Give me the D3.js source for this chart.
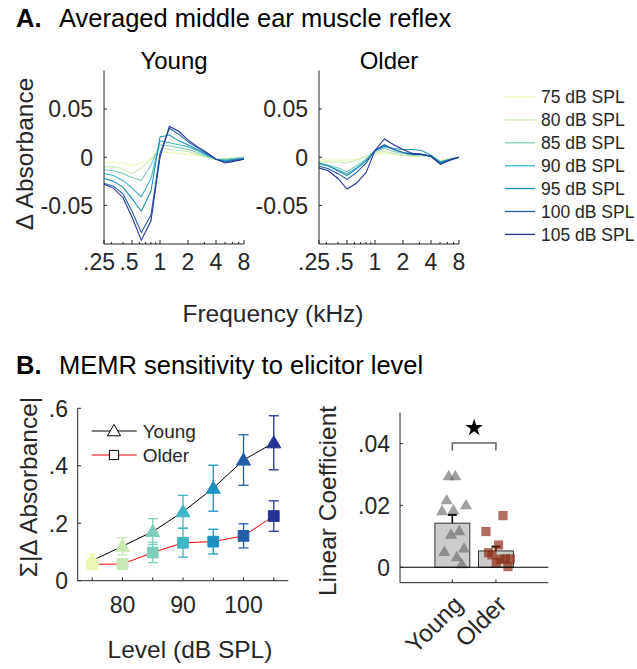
<!DOCTYPE html>
<html>
<head>
<meta charset="utf-8">
<script src="https://cdn.jsdelivr.net/npm/d3@7"></script>
<style>
  html, body { margin: 0; padding: 0; background: #fff; }
  svg { display: block; font-family: "Liberation Sans", Arial, Helvetica, sans-serif; }
</style>
</head>
<body>
<svg id="chart" width="637" height="669"></svg>
<script>
// ---------------- DATA ----------------
const freqs = [0.25, 0.315, 0.4, 0.5, 0.63, 0.8, 1, 1.26, 1.59, 2, 2.52, 3.17, 4, 5.04, 6.35, 8];
const levels = [75, 80, 85, 90, 95, 100, 105];
const levelLabels = ["75 dB SPL", "80 dB SPL", "85 dB SPL", "90 dB SPL", "95 dB SPL", "100 dB SPL", "105 dB SPL"];
const freqTicks = [0.25, 0.5, 1, 2, 4, 8];
const freqTickLabels = [".25", ".5", "1", "2", "4", "8"];
const freqMinorTicks = [0.3, 0.4, 0.6, 0.7, 0.8, 0.9, 3, 5, 6, 7];
const absTicks = [-0.05, 0, 0.05];
const absTickLabels = ["-0.05", "0", "0.05"];

const young75  = [-0.005, -0.005, -0.006, -0.009, -0.006, -0.002, 0.005, 0.005, 0.004, 0.003, 0.002, 0.000, -0.002, -0.001, 0.000, 0.000];
const young80  = [-0.010, -0.010, -0.012, -0.017, -0.011, -0.002, 0.009, 0.008, 0.007, 0.006, 0.003, 0.000, -0.002, -0.002, -0.001, 0.000];
const young85  = [-0.013, -0.014, -0.017, -0.021, -0.024, -0.008, 0.013, 0.012, 0.010, 0.008, 0.005, 0.001, -0.002, -0.002, -0.001, 0.000];
const young90  = [-0.017, -0.019, -0.024, -0.032, -0.041, -0.022, 0.017, 0.015, 0.013, 0.011, 0.007, 0.002, -0.002, -0.003, -0.002, -0.001];
const young95  = [-0.022, -0.025, -0.031, -0.043, -0.056, -0.035, 0.021, 0.023, 0.017, 0.013, 0.008, 0.003, -0.002, -0.004, -0.002, -0.001];
const young100 = [-0.027, -0.030, -0.038, -0.056, -0.078, -0.060, 0.004, 0.030, 0.024, 0.016, 0.010, 0.004, -0.002, -0.005, -0.003, -0.002];
const young105 = [-0.028, -0.032, -0.042, -0.062, -0.086, -0.066, 0.000, 0.032, 0.027, 0.018, 0.011, 0.005, -0.002, -0.006, -0.004, -0.002];

const older75  = [-0.003, -0.003, -0.003, -0.003, -0.002, 0.000, 0.003, 0.004, 0.003, 0.002, 0.001, 0.001, 0.001, -0.003, -0.001, 0.000];
const older80  = [-0.005, -0.005, -0.005, -0.006, -0.003, 0.001, 0.005, 0.006, 0.004, 0.002, 0.001, 0.001, 0.001, -0.004, -0.002, 0.000];
const older85  = [-0.006, -0.008, -0.011, -0.015, -0.009, -0.002, 0.006, 0.009, 0.006, 0.004, 0.002, 0.002, 0.001, -0.005, -0.002, 0.000];
const older90  = [-0.007, -0.009, -0.013, -0.017, -0.011, -0.003, 0.007, 0.012, 0.008, 0.005, 0.004, 0.003, 0.001, -0.006, -0.003, 0.000];
const older95  = [-0.006, -0.009, -0.014, -0.019, -0.012, -0.004, 0.007, 0.011, 0.009, 0.008, 0.008, 0.007, 0.002, -0.005, -0.002, 0.000];
const older100 = [-0.009, -0.012, -0.017, -0.023, -0.016, -0.006, 0.007, 0.013, 0.008, 0.005, 0.003, 0.003, 0.001, -0.007, -0.003, 0.000];
const older105 = [-0.011, -0.014, -0.022, -0.033, -0.027, -0.016, 0.007, 0.019, 0.013, 0.008, 0.004, 0.003, 0.001, -0.007, -0.003, 0.000];

const youngCurves = [young75, young80, young85, young90, young95, young100, young105];
const olderCurves = [older75, older80, older85, older90, older95, older100, older105];

// Panel B left: summed |delta absorbance|
const youngSum    = [0.070, 0.120, 0.171, 0.240, 0.322, 0.420, 0.480];
const youngSumErr = [0.022, 0.030, 0.045, 0.057, 0.080, 0.088, 0.094];
const olderSum    = [0.057, 0.058, 0.098, 0.132, 0.136, 0.156, 0.225];
const olderSumErr = [0.015, 0.012, 0.035, 0.050, 0.043, 0.042, 0.053];
const levelTicks = [75, 80, 85, 90, 95, 100, 105];
const levelTickLabels = ["", "80", "", "90", "", "100", ""];
const sumTicks = [0, 0.2, 0.4, 0.6];
const sumTickLabels = ["0", ".2", ".4", ".6"];

// Panel B right: linear coefficient
const groups = ["Young", "Older"];
const coefMean = [0.01426, 0.00528];
const coefSem  = [0.0027, 0.0014];
const youngCoef   = [0.0296, 0.0296, 0.0218, 0.0183, 0.0186, 0.0202, 0.0107, 0.0118, 0.0051, 0.0062, 0.0034, 0.0011];
const youngJitter = [-0.083, 0.069, -0.129, -0.236, 0.023, 0.314, -0.03, 0.161, -0.183, 0.268, 0.101, 0.216];
const olderCoef   = [0.01155, 0.0167, 0.0072, 0.0047, 0.0040, 0.0015, 0.0026, 0.0027, 0.0027, 0.0002];
const olderJitter = [-0.229, 0.161, 0.06, -0.17, -0.092, 0.007, 0.099, 0.213, 0.328, 0.275];
const coefTicks = [0, 0.02, 0.04];
const coefTickLabels = ["0", ".02", ".04"];

// ---------------- STYLE ----------------
const palette = ["#edf8b1", "#c7e9b4", "#7fcdbb", "#41b6c4", "#1d91c0", "#225ea8", "#253494"];
const axisColor = "#262626";
const FONT_TICK = 23;
const FONT_LABEL = 24.5;

const svg = d3.select("#chart");

function drawAxisLines(g, x0, x1, y0, y1) {
  g.append("line").attr("x1", x0).attr("x2", x0).attr("y1", y0).attr("y2", y1)
    .attr("stroke", axisColor).attr("stroke-width", 1);
  g.append("line").attr("x1", x0).attr("x2", x1).attr("y1", y1).attr("y2", y1)
    .attr("stroke", axisColor).attr("stroke-width", 1);
}

// ---------------- TITLES ----------------
function panelTitle(letter, text, y) {
  const t = svg.append("text").attr("x", 16).attr("y", y).attr("fill", "#000")
    .style("font-size", "25.5px");
  t.append("tspan").attr("font-weight", "bold").text(letter);
  t.append("tspan").attr("x", 59).text(text);
}
panelTitle("A.", "Averaged middle ear muscle reflex", 27);
panelTitle("B.", "MEMR sensitivity to elicitor level", 374);

// ---------------- PANEL A ----------------
const yA = d3.scaleLinear().domain([-0.09, 0.09]).range([244, 70.5]);

function panelA(left, right, title, curves) {
  const x = d3.scaleLog().domain([0.25, 8]).range([left, right]);
  const g = svg.append("g");
  const line = d3.line().x((d, i) => x(freqs[i])).y(d => yA(d));
  curves.forEach((c, k) => {
    g.append("path").attr("d", line(c)).attr("fill", "none")
      .attr("stroke", palette[k]).attr("stroke-width", 1.1);
  });
  drawAxisLines(g, left, right, 70.5, 244);
  absTicks.forEach((t, i) => {
    g.append("line").attr("x1", left).attr("x2", left + 3).attr("y1", yA(t)).attr("y2", yA(t))
      .attr("stroke", axisColor);
    g.append("text").attr("x", left - 11).attr("y", yA(t)).attr("dy", "0.36em")
      .attr("text-anchor", "end").attr("fill", axisColor).style("font-size", FONT_TICK + "px")
      .text(absTickLabels[i]);
  });
  freqTicks.forEach((t, i) => {
    g.append("line").attr("x1", x(t)).attr("x2", x(t)).attr("y1", 244).attr("y2", 240)
      .attr("stroke", axisColor);
    const dx = i === 0 ? -5 : (i === 1 ? -3 : 0);
    g.append("text").attr("x", x(t) + dx).attr("y", 270)
      .attr("text-anchor", "middle").attr("fill", axisColor).style("font-size", FONT_TICK + "px")
      .text(freqTickLabels[i]);
  });
  freqMinorTicks.forEach(t => {
    g.append("line").attr("x1", x(t)).attr("x2", x(t)).attr("y1", 244).attr("y2", 242)
      .attr("stroke", axisColor);
  });
  g.append("text").attr("x", (left + right) / 2).attr("y", 69).attr("text-anchor", "middle")
    .attr("fill", "#000").style("font-size", "24px").text(title);
}
panelA(104, 244, "Young", youngCurves);
panelA(319, 459, "Older", olderCurves);

svg.append("text").attr("x", 273).attr("y", 322).attr("text-anchor", "middle")
  .attr("fill", axisColor).style("font-size", FONT_LABEL + "px").text("Frequency (kHz)");
svg.append("text").attr("transform", "translate(33,154) rotate(-90)").attr("text-anchor", "middle")
  .attr("fill", axisColor).style("font-size", FONT_LABEL + "px").text("\u0394 Absorbance");

// legend A
const legA = svg.append("g");
levelLabels.forEach((lab, i) => {
  const yy = 97 + i * 22.9;
  legA.append("line").attr("x1", 505).attr("x2", 535).attr("y1", yy).attr("y2", yy)
    .attr("stroke", palette[i]).attr("stroke-width", 1.3);
  legA.append("text").attr("x", 541).attr("y", yy).attr("dy", "0.36em")
    .attr("fill", axisColor).style("font-size", "17.5px").text(lab);
});

// ---------------- PANEL B LEFT ----------------
(function () {
  const x = d3.scaleLinear().domain([72.6, 107.4]).range([77.7, 288.3]);
  const y = d3.scaleLinear().domain([0, 0.6]).range([580.7, 408.3]);
  const g = svg.append("g");
  drawAxisLines(g, 77.7, 288.3, 408.3, 580.7);
  sumTicks.forEach((t, i) => {
    g.append("line").attr("x1", 77.7).attr("x2", 81).attr("y1", y(t)).attr("y2", y(t)).attr("stroke", axisColor);
    g.append("text").attr("x", 68).attr("y", y(t)).attr("dy", "0.36em").attr("text-anchor", "end")
      .attr("fill", axisColor).style("font-size", FONT_TICK + "px").text(sumTickLabels[i]);
  });
  levelTicks.forEach((t, i) => {
    g.append("line").attr("x1", x(t)).attr("x2", x(t)).attr("y1", 580.7).attr("y2", 577.5).attr("stroke", axisColor);
    if (levelTickLabels[i]) {
      g.append("text").attr("x", x(t)).attr("y", 613).attr("text-anchor", "middle")
        .attr("fill", axisColor).style("font-size", FONT_TICK + "px").text(levelTickLabels[i]);
    }
  });
  const line = d3.line().x((d, i) => x(levels[i])).y(d => y(d));
  g.append("path").attr("d", line(youngSum)).attr("fill", "none").attr("stroke", "#000").attr("stroke-width", 1);
  g.append("path").attr("d", line(olderSum)).attr("fill", "none").attr("stroke", "#ff0000").attr("stroke-width", 1);

  function errbars(vals, errs) {
    vals.forEach((v, i) => {
      const cx = x(levels[i]);
      const c = palette[i];
      g.append("line").attr("x1", cx).attr("x2", cx).attr("y1", y(v - errs[i])).attr("y2", y(v + errs[i]))
        .attr("stroke", c).attr("stroke-width", 1.3);
      [v - errs[i], v + errs[i]].forEach(e => {
        g.append("line").attr("x1", cx - 5).attr("x2", cx + 5).attr("y1", y(e)).attr("y2", y(e))
          .attr("stroke", c).attr("stroke-width", 1.3);
      });
    });
  }
  errbars(olderSum, olderSumErr);
  errbars(youngSum, youngSumErr);
  const tri = d3.symbol(d3.symbolTriangle).size(85);
  const sq = d3.symbol(d3.symbolSquare).size(115);
  olderSum.forEach((v, i) => {
    g.append("path").attr("d", sq()).attr("transform", `translate(${x(levels[i])},${y(v)})`)
      .attr("fill", palette[i]).attr("stroke", palette[i]);
  });
  youngSum.forEach((v, i) => {
    g.append("path").attr("d", tri()).attr("transform", `translate(${x(levels[i])},${y(v) + 1})`)
      .attr("fill", palette[i]).attr("stroke", palette[i]);
  });
  // legend
  const lg = g.append("g");
  [["Young", "#000", "tri", 431], ["Older", "#ff0000", "sq", 455]].forEach(([lab, col, sym, yy]) => {
    lg.append("line").attr("x1", 91.7).attr("x2", 136.7).attr("y1", yy).attr("y2", yy).attr("stroke", col);
    lg.append("path").attr("d", sym === "tri" ? d3.symbol(d3.symbolTriangle).size(75)() : d3.symbol(d3.symbolSquare).size(85)())
      .attr("transform", `translate(114,${yy + (sym === "tri" ? 1 : 0)})`).attr("fill", "#fff").attr("stroke", "#000").attr("stroke-width", 1);
    lg.append("text").attr("x", 142.7).attr("y", yy).attr("dy", "0.36em").attr("fill", axisColor)
      .style("font-size", "19px").text(lab);
  });
  svg.append("text").attr("x", 190).attr("y", 658).attr("text-anchor", "middle")
    .attr("fill", axisColor).style("font-size", FONT_LABEL + "px").text("Level (dB SPL)");
  svg.append("text").attr("transform", "translate(37,487) rotate(-90)").attr("text-anchor", "middle")
    .attr("fill", axisColor).style("font-size", FONT_LABEL + "px").text("\u03A3|\u0394 Absorbance|");
})();

// ---------------- PANEL B RIGHT ----------------
(function () {
  const x = d3.scaleLinear().domain([-0.2, 3.2]).range([400, 548.3]);
  const y = d3.scaleLinear().domain([-0.005, 0.05]).range([582.7, 412.7]);
  const g = svg.append("g");
  const bw = x(0.8) - x(0);
  coefMean.forEach((m, i) => {
    g.append("rect").attr("x", x(i + 1) - bw / 2).attr("width", bw)
      .attr("y", y(m)).attr("height", y(0) - y(m))
      .attr("fill", "#cccccc").attr("stroke", "#333").attr("stroke-width", 1);
  });
  coefMean.forEach((m, i) => {
    const cx = x(i + 1);
    g.append("line").attr("x1", cx).attr("x2", cx).attr("y1", y(m)).attr("y2", y(m + coefSem[i]))
      .attr("stroke", "#000").attr("stroke-width", 1.5);
    g.append("line").attr("x1", cx - 4.5).attr("x2", cx + 4.5).attr("y1", y(m + coefSem[i])).attr("y2", y(m + coefSem[i]))
      .attr("stroke", "#000").attr("stroke-width", 2);
  });
  const tri = d3.symbol(d3.symbolTriangle).size(62);
  youngCoef.forEach((v, i) => {
    g.append("path").attr("d", tri()).attr("transform", `translate(${x(1 + youngJitter[i])},${y(v) + 1})`)
      .attr("fill", "#666").attr("fill-opacity", 0.62);
  });
  const sq = d3.symbol(d3.symbolSquare).size(85);
  olderCoef.forEach((v, i) => {
    g.append("path").attr("d", sq()).attr("transform", `translate(${x(2 + olderJitter[i])},${y(v)})`)
      .attr("fill", "#8b2a14").attr("fill-opacity", 0.68);
  });
  g.append("line").attr("x1", 400).attr("x2", 548.3).attr("y1", y(0)).attr("y2", y(0))
    .attr("stroke", "#000").attr("stroke-width", 1.2);
  drawAxisLines(g, 400, 548.3, 412.7, 582.7);
  coefTicks.forEach((t, i) => {
    g.append("line").attr("x1", 400).attr("x2", 403).attr("y1", y(t)).attr("y2", y(t)).attr("stroke", axisColor);
    g.append("text").attr("x", 390).attr("y", y(t)).attr("dy", "0.36em").attr("text-anchor", "end")
      .attr("fill", axisColor).style("font-size", FONT_TICK + "px").text(coefTickLabels[i]);
  });
  groups.forEach((gr, i) => {
    const cx = x(i + 1);
    g.append("line").attr("x1", cx).attr("x2", cx).attr("y1", 582.7).attr("y2", 579.5).attr("stroke", axisColor);
    g.append("text").attr("transform", `translate(${cx + 12},${606}) rotate(-45)`).attr("text-anchor", "end")
      .attr("fill", axisColor).style("font-size", FONT_LABEL + "px").text(gr);
  });
  const yb = y(0.0402), ye = y(0.0378);
  g.append("path").attr("d", `M${x(1)},${ye}L${x(1)},${yb}L${x(2)},${yb}L${x(2)},${ye}`)
    .attr("fill", "none").attr("stroke", "#666").attr("stroke-width", 1.6);
  g.append("path").attr("d", d3.symbol(d3.symbolStar).size(95)())
    .attr("transform", `translate(${(x(1) + x(2)) / 2},${y(0.0451)})`).attr("fill", "#000");
  svg.append("text").attr("transform", "translate(336,501) rotate(-90)").attr("text-anchor", "middle")
    .attr("fill", axisColor).style("font-size", FONT_LABEL + "px").text("Linear Coefficient");
})();
</script>
</body>
</html>
